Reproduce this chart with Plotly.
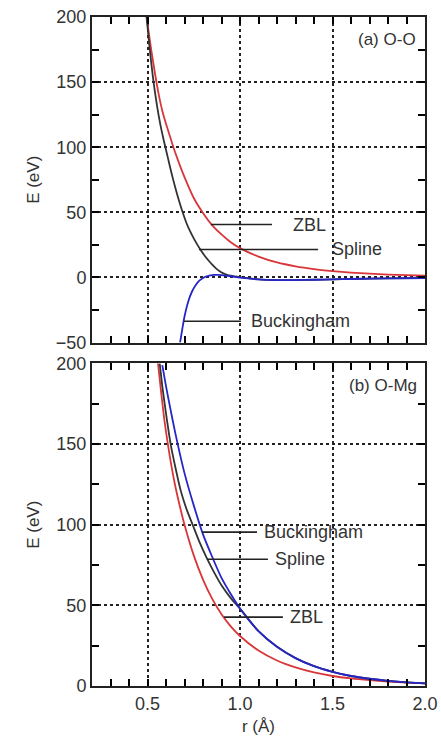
import plotly.graph_objects as go

# ---------------- data ----------------
# (a) O-O
r_zbl_oo = [0.49, 0.5, 0.52, 0.54, 0.56, 0.58, 0.6, 0.62, 0.64, 0.67, 0.7, 0.75, 0.8, 0.85, 0.9,
            0.95, 1.0, 1.1, 1.2, 1.3, 1.4, 1.5, 1.6, 1.7, 1.8, 1.9, 2.0]
e_zbl_oo = [205, 195, 175, 157, 141, 128, 118, 109, 100, 88, 77, 61, 49.5, 40, 33,
            27, 22.5, 16, 11.5, 8.5, 6.4, 4.9, 3.7, 2.9, 2.2, 1.7, 1.3]

r_spl_oo = [0.495, 0.51, 0.53, 0.55, 0.57, 0.59, 0.61, 0.63, 0.65, 0.67, 0.69, 0.71, 0.73,
            0.75, 0.77, 0.79, 0.81, 0.83, 0.85, 0.87, 0.89, 0.91, 0.93, 0.95, 0.97, 1.0,
            1.1, 1.2, 1.3, 1.4, 1.5, 1.6, 1.8, 2.0]
e_spl_oo = [200, 178, 153, 133, 117, 104, 92, 80, 69, 59, 50, 42, 35.5,
            30, 25, 20.5, 16.5, 13, 9.8, 7, 4.8, 3.1, 2.0, 1.3, 0.8, 0.2,
            -1.5, -2.0, -2.0, -1.8, -1.5, -1.2, -0.7, -0.45]

r_buck_oo = [0.676, 0.69, 0.70, 0.72, 0.74, 0.76, 0.78, 0.80, 0.82, 0.84, 0.86, 0.88, 0.9,
             0.95, 1.0, 1.1, 1.2, 1.3, 1.4, 1.5, 1.6, 1.8, 2.0]
e_buck_oo = [-50, -38, -30, -18.6, -11, -6, -2.5, -0.4, 0.9, 1.6, 1.9, 1.9, 1.7,
             0.9, -0.2, -1.5, -2.0, -2.0, -1.8, -1.5, -1.2, -0.7, -0.45]

# (b) O-Mg
r_zbl_omg = [0.555, 0.57, 0.59, 0.61, 0.63, 0.65, 0.68, 0.7, 0.75, 0.8, 0.85, 0.9, 0.95,
             1.0, 1.1, 1.2, 1.3, 1.4, 1.5, 1.6, 1.7, 1.8, 1.9, 2.0]
e_zbl_omg = [202, 186, 166, 150, 136, 124, 109, 100, 81, 66, 54, 44.5, 37,
             31, 22, 15.8, 11.5, 8.4, 6.2, 4.7, 3.6, 2.7, 2.1, 1.6]

r_spl_omg = [0.566, 0.58, 0.6, 0.625, 0.65, 0.68, 0.71, 0.744, 0.78, 0.82, 0.86, 0.9, 0.95,
             1.0, 1.1, 1.2, 1.3, 1.4, 1.5, 1.6, 1.7, 1.8, 1.9, 2.0]
e_spl_omg = [200, 186, 169, 150, 136, 121, 110, 100, 89.5, 79.5, 70.5, 62.5, 54.5,
             48, 34, 24.3, 17.3, 12.3, 8.8, 6.2, 4.5, 3.2, 2.3, 1.6]

r_buck_omg = [0.58, 0.6, 0.62, 0.65, 0.7, 0.75, 0.8, 0.85, 0.9, 0.95, 1.0, 1.1, 1.2, 1.3,
              1.4, 1.5, 1.6, 1.7, 1.8, 1.9, 2.0]
e_buck_omg = [199, 186, 174, 157, 132, 112, 94, 80, 67, 57, 48, 34, 24.3, 17.3,
              12.3, 8.8, 6.2, 4.5, 3.2, 2.3, 1.6]

# label leader lines: (text, x_start, x_end, text_x, y)
labels_oo = [("ZBL", 0.843, 1.173, 1.276, 40.6), ("Spline", 0.778, 1.422, 1.486, 21.5),
             ("Buckingham", 0.697, 1.005, 1.049, -33.7)]
labels_omg = [("Buckingham", 0.795, 1.092, 1.119, 95.4), ("Spline", 0.822, 1.151, 1.178, 78.6),
              ("ZBL", 0.914, 1.232, 1.259, 42.7)]

# ---------------- styles ----------------
RED = "#d9363a"
BLACK = "#333333"
BLUE = "#2626c8"
FONT = "Liberation Sans, Arial, sans-serif"
TXT = "#333333"
TICKC = "black"
TOP_DOM = [0.5134, 1.0]
BOT_DOM = [0.0, 0.4821]

fig = go.Figure()

def add(r, e, color, ax):
    fig.add_trace(go.Scatter(x=r, y=e, mode="lines",
                             line=dict(color=color, width=1.8, shape="spline", smoothing=0.6),
                             xaxis="x" if ax == 1 else "x2", yaxis="y" if ax == 1 else "y2",
                             showlegend=False, hoverinfo="skip"))

add(r_zbl_oo, e_zbl_oo, RED, 1)
add(r_spl_oo, e_spl_oo, BLACK, 1)
add(r_buck_oo, e_buck_oo, BLUE, 1)
add(r_zbl_omg, e_zbl_omg, RED, 2)
add(r_spl_omg, e_spl_omg, BLACK, 2)
add(r_buck_omg, e_buck_omg, BLUE, 2)

shapes = []
annotations = []
for labels, xr, yr in ((labels_oo, "x", "y"), (labels_omg, "x2", "y2")):
    for text, x0, x1, xt, y in labels:
        shapes.append(dict(type="line", xref=xr, yref=yr, x0=x0, x1=x1, y0=y, y1=y,
                           line=dict(color="#222222", width=1.6)))
        annotations.append(dict(text=text, xref=xr, yref=yr, x=xt, y=y, xanchor="left",
                                yanchor="middle", showarrow=False,
                                font=dict(family=FONT, size=18, color=TXT)))

annotations.append(dict(text="(a) O-O", xref="paper", yref="paper", x=1, y=TOP_DOM[1],
                        xanchor="right", yanchor="top", xshift=-7, yshift=-11,
                        showarrow=False, font=dict(family=FONT, size=17, color=TXT)))
annotations.append(dict(text="(b) O-Mg", xref="paper", yref="paper", x=1, y=BOT_DOM[1],
                        xanchor="right", yanchor="top", xshift=-6, yshift=-11,
                        showarrow=False, font=dict(family=FONT, size=17, color=TXT)))

def xax(anchor, labels):
    d = dict(anchor=anchor, range=[0.2, 2.0], tick0=0, dtick=0.5, tickformat=".1f",
             ticks="inside", ticklen=7, tickwidth=2, tickcolor=TICKC,
             minor=dict(dtick=0.1, ticks="inside", ticklen=7, tickwidth=2,
                        tickcolor=TICKC),
             showticklabels=labels, showline=True, linecolor="#222", linewidth=2,
             mirror="allticks", showgrid=True, gridcolor="#222", griddash="dot",
             gridwidth=2, zeroline=False,
             tickfont=dict(family=FONT, size=18, color=TXT))
    if labels:
        d["title"] = dict(text="r (Å)", standoff=8, font=dict(family=FONT, size=17, color=TXT))
    return d

def yax(dom, anchor, rng):
    return dict(domain=dom, anchor=anchor, range=rng, dtick=50,
                ticks="inside", ticklen=7, tickwidth=2, tickcolor=TICKC,
                minor=dict(dtick=25, ticks="inside", ticklen=7, tickwidth=2,
                           tickcolor=TICKC),
                showline=True, linecolor="#222", linewidth=2, mirror="allticks",
                showgrid=True, gridcolor="#222", griddash="dot", gridwidth=2,
                zeroline=False, tickfont=dict(family=FONT, size=18, color=TXT),
                title=dict(text="E (eV)", standoff=12,
                           font=dict(family=FONT, size=17, color=TXT)))

fig.update_layout(
    width=441, height=738,
    margin=dict(l=92, r=16, t=17, b=52, autoexpand=False),
    paper_bgcolor="white", plot_bgcolor="white", showlegend=False,
    xaxis=xax("y", False),
    xaxis2=xax("y2", True),
    yaxis=yax(TOP_DOM, "x", [-50, 200]),
    yaxis2=yax(BOT_DOM, "x2", [0, 200]),
    shapes=shapes, annotations=annotations,
)

fig.write_html("out.html")
